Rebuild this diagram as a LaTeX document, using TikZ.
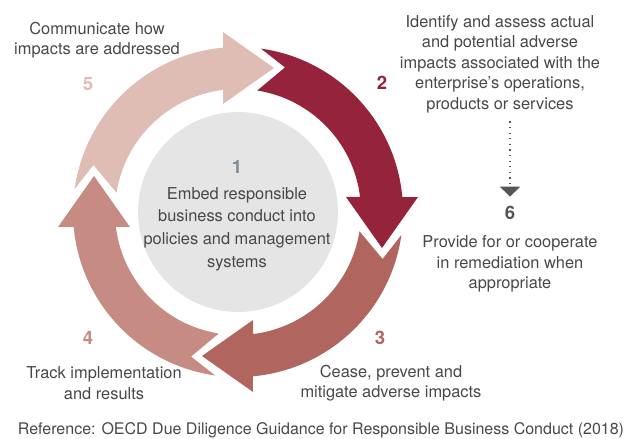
\documentclass[tikz,border=0pt]{standalone}
\usepackage{fontspec}
\setmainfont{TeX Gyre Heros}
\usetikzlibrary{arrows.meta}
\definecolor{stepfive}{HTML}{DFBCB4}
\definecolor{stepfour}{HTML}{C68B83}
\definecolor{stepthree}{HTML}{B0655F}
\definecolor{steptwo}{HTML}{94233B}
\definecolor{circgrey}{HTML}{E5E5E5}
\definecolor{numone}{HTML}{7C8D9B}
\definecolor{textgrey}{HTML}{484848}
\definecolor{sixgrey}{HTML}{555555}

\begin{document}
\begin{tikzpicture}[x=1pt,y=1pt,
  txt/.style={align=center,text=textgrey,font=\fontsize{16.4}{20.5}\selectfont},
  num/.style={font=\fontsize{18.5}{18.5}\selectfont\bfseries}]
 \useasboundingbox (0,0) rectangle (624,439);
 \fill[circgrey] (238,227) circle (100);
 % four curved arrows, each the first one turned by a quarter
 \foreach \r/\c in {0/stepfive,90/stepfour,180/stepthree,270/steptwo}{
  \begin{scope}[shift={(238,227)},rotate=\r]
   \fill[\c] (172:165) arc[start angle=172,end angle=95.2,radius=165]--(-15,180)--(36,144)--(-15,108)--(-15,122.1)
     arc[start angle=97,end angle=171,radius=123]--(162:152)--cycle;
  \end{scope}}
 \node[num,text=numone] (n1) at (237,272) {1};
 \node[txt,font=\fontsize{16.4}{22.7}\selectfont] (embed) at (237,210) {Embed responsible\\business conduct into\\policies and management\\systems};
 \node[txt] (communicate) at (97,399) {Communicate how\\impacts are addressed};
 \node[num,text=stepfive] (n5) at (88,355) {5};
 \node[num,text=steptwo] (n2) at (382,356) {2};
 \node[txt] (identify) at (500,375) {Identify and assess actual\\and potential adverse\\impacts associated with the\\enterprise’s operations,\\products or services};
 \node[num,text=sixgrey] (n6) at (510,226) {6};
 \draw[sixgrey,line width=1.2pt,dash pattern=on 1.2pt off 4.4pt,-{Triangle[width=20pt,length=10pt]},shorten <=5pt,shorten >=6pt] (identify.south -| n6) -- (n6.north);
 \node[txt] (provide) at (510,175) {Provide for or cooperate\\in remediation when\\appropriate};
 \node[num,text=stepthree] (n3) at (380,101) {3};
 \node[txt] (cease) at (391,56) {Cease, prevent and\\mitigate adverse impacts};
 \node[num,text=stepfour] (n4) at (88,101) {4};
 \node[txt] (track) at (104,56) {Track implementation\\and results};
 \node[txt,font=\fontsize{16}{20}\selectfont] (ref) at (321,9) {Reference: OECD Due Diligence Guidance for Responsible Business Conduct (2018)};
\end{tikzpicture}
\end{document}
